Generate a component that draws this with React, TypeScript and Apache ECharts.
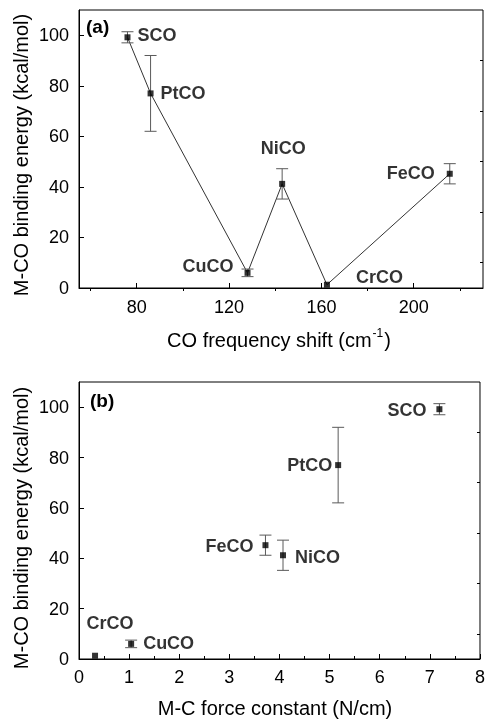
import React, { useEffect, useRef } from "react";
import * as echarts from "echarts";

// ---- data ----
const names = ["SCO", "PtCO", "CuCO", "NiCO", "CrCO", "FeCO"];
const freqShift = [76, 86, 128, 143, 162.4, 215.6];
const energy = [99.2, 77, 6, 41.2, 1.3, 45.2];
const energyErr = [2.2, 15, 1.5, 6, 0, 4];
const forceConst = [7.19, 5.17, 1.04, 4.07, 0.32, 3.72];

const xTicksA = [80, 120, 160, 200];
const xMinorA = [60, 100, 140, 180, 220];
const yTicks = [0, 20, 40, 60, 80, 100];
const yMinor = [10, 30, 50, 70, 90];

// label placement (style): [align, dx, dy]
const labelA: [string, number, number][] = [
  ["left", 10, -2],
  ["left", 10, 0],
  ["right", -14, -7],
  ["center", 1, -36],
  ["left", 29, -8],
  ["right", -15, -1],
];
const labelB: [string, number, number][] = [
  ["right", -13, 1],
  ["right", -6, 0],
  ["left", 12, -1],
  ["left", 12, 2],
  ["center", 15, -33],
  ["right", -12, 1],
];

const FONT = "'Liberation Sans', Arial, Helvetica, sans-serif";

function errRender(params: any, api: any) {
  const x = api.value(0);
  const y = api.value(1);
  const e = api.value(2);
  if (!e) return { type: "group", children: [] };
  const t = api.coord([x, y + e]);
  const b = api.coord([x, y - e]);
  const w = 6;
  const st = { stroke: "#5a5a5a", lineWidth: 1 };
  return {
    type: "group",
    children: [
      { type: "line", shape: { x1: t[0], y1: t[1], x2: b[0], y2: b[1] }, style: st },
      { type: "line", shape: { x1: t[0] - w, y1: t[1], x2: t[0] + w, y2: t[1] }, style: st },
      { type: "line", shape: { x1: b[0] - w, y1: b[1], x2: b[0] + w, y2: b[1] }, style: st },
    ],
  };
}

function pointData(xs: number[], place: [string, number, number][]) {
  return names.map((n, i) => ({
    name: n,
    value: [xs[i], energy[i]],
    label: {
      show: true,
      formatter: n,
      position: [3 + place[i][1], 3 + place[i][2]],
      align: place[i][0],
      verticalAlign: "middle",
      fontFamily: FONT,
      fontWeight: "bold",
      fontSize: 18,
      color: "#000",
    },
  }));
}

export default function App() {
  const ref = useRef<HTMLDivElement>(null);
  useEffect(() => {
    if (!ref.current) return;
    const chart = echarts.init(ref.current, undefined, { renderer: "svg" });
    const axisLine = { show: true, lineStyle: { color: "#000", width: 1 } };
    const lbl = { fontFamily: FONT, fontSize: 18, color: "#000" };
    const yMain = (grid: number) => ({
      type: "value",
      gridIndex: grid,
      min: 0,
      max: 110,
      axisLine,
      splitLine: { show: false },
      axisTick: { show: true, inside: true, length: 5, customValues: yTicks, lineStyle: { color: "#000" } },
      axisLabel: { ...lbl, margin: 10, customValues: yTicks },
    });
    const yMin = (grid: number) => ({
      type: "value",
      gridIndex: grid,
      min: 0,
      max: 110,
      axisLine: { show: false },
      splitLine: { show: false },
      axisTick: { show: true, inside: true, length: 3, customValues: yMinor, lineStyle: { color: "#000" } },
      axisLabel: { show: false },
    });

    const sorted = names
      .map((_, i) => i)
      .sort((a, b) => freqShift[a] - freqShift[b]);

    chart.setOption({
      animation: false,
      grid: [
        { left: 79, right: 5, top: 10, height: 278, show: true, borderColor: "#000", borderWidth: 1, backgroundColor: "transparent" },
        { left: 79, right: 5, top: 382, height: 277, show: true, borderColor: "#000", borderWidth: 1, backgroundColor: "transparent" },
      ],
      xAxis: [
        {
          type: "value",
          gridIndex: 0,
          min: 55,
          max: 230,
          axisLine,
          splitLine: { show: false },
          axisTick: { show: true, inside: true, length: 5, customValues: xTicksA, lineStyle: { color: "#000" } },
          axisLabel: { ...lbl, margin: 10, customValues: xTicksA },
        },
        {
          type: "value",
          gridIndex: 0,
          min: 55,
          max: 230,
          axisLine: { show: false },
          splitLine: { show: false },
          axisTick: { show: true, inside: true, length: 3, customValues: xMinorA, lineStyle: { color: "#000" } },
          axisLabel: { show: false },
        },
        {
          type: "value",
          gridIndex: 1,
          min: 0,
          max: 8,
          interval: 1,
          axisLine,
          splitLine: { show: false },
          axisTick: { show: true, inside: true, length: 5, lineStyle: { color: "#000" } },
          minorTick: { show: true, splitNumber: 2, length: 3, lineStyle: { color: "#000" } },
          axisLabel: { ...lbl, margin: 9, showMinLabel: true, showMaxLabel: true },
        },
      ],
      yAxis: [yMain(0), yMin(0), yMain(1), yMin(1)],
      graphic: [
        { type: "text", left: 86, top: 17, style: { text: "(a)", font: `bold 19px ${FONT}`, fill: "#000" } },
        { type: "text", left: 90, top: 391, style: { text: "(b)", font: `bold 19px ${FONT}`, fill: "#000" } },
        {
          type: "text",
          x: 21,
          y: 155,
          rotation: Math.PI / 2,
          style: { text: "M-CO binding energy (kcal/mol)", font: `20px ${FONT}`, fill: "#000", align: "center", verticalAlign: "middle" },
        },
        {
          type: "text",
          x: 21,
          y: 528,
          rotation: Math.PI / 2,
          style: { text: "M-CO binding energy (kcal/mol)", font: `20px ${FONT}`, fill: "#000", align: "center", verticalAlign: "middle" },
        },
        {
          type: "text",
          x: 279,
          y: 340,
          style: {
            text: "{a|CO frequency shift (cm}{s|-1}{a|)}",
            align: "center",
            verticalAlign: "middle",
            rich: {
              a: { fontFamily: FONT, fontSize: 20, fill: "#000", color: "#000" },
              s: { fontFamily: FONT, fontSize: 12, color: "#000", padding: [0, 1, 14, 1] },
            },
          },
        },
        {
          type: "text",
          x: 275,
          y: 708,
          style: { text: "M-C force constant (N/cm)", font: `20px ${FONT}`, fill: "#000", align: "center", verticalAlign: "middle" },
        },
      ],
      series: [
        {
          type: "line",
          xAxisIndex: 0,
          yAxisIndex: 0,
          data: sorted.map((i) => [freqShift[i], energy[i]]),
          showSymbol: false,
          symbol: "none",
          lineStyle: { color: "#333", width: 1 },
          silent: true,
          z: 1,
        },
        {
          type: "custom",
          xAxisIndex: 0,
          yAxisIndex: 0,
          renderItem: errRender,
          data: names.map((_, i) => [freqShift[i], energy[i], energyErr[i]]),
          encode: { x: 0, y: 1 },
          z: 2,
        },
        {
          type: "scatter",
          xAxisIndex: 0,
          yAxisIndex: 0,
          symbol: "rect",
          symbolSize: 6,
          itemStyle: { color: "#000" },
          data: pointData(freqShift, labelA),
          z: 3,
        },
        {
          type: "custom",
          xAxisIndex: 2,
          yAxisIndex: 2,
          renderItem: errRender,
          data: names.map((_, i) => [forceConst[i], energy[i], energyErr[i]]),
          encode: { x: 0, y: 1 },
          z: 2,
        },
        {
          type: "scatter",
          xAxisIndex: 2,
          yAxisIndex: 2,
          symbol: "rect",
          symbolSize: 6,
          itemStyle: { color: "#000" },
          data: pointData(forceConst, labelB),
          z: 3,
        },
      ],
    });
    return () => chart.dispose();
  }, []);
  return <div ref={ref} style={{ position: "fixed", left: 0, top: 0, width: 488, height: 721 }} />;
}
